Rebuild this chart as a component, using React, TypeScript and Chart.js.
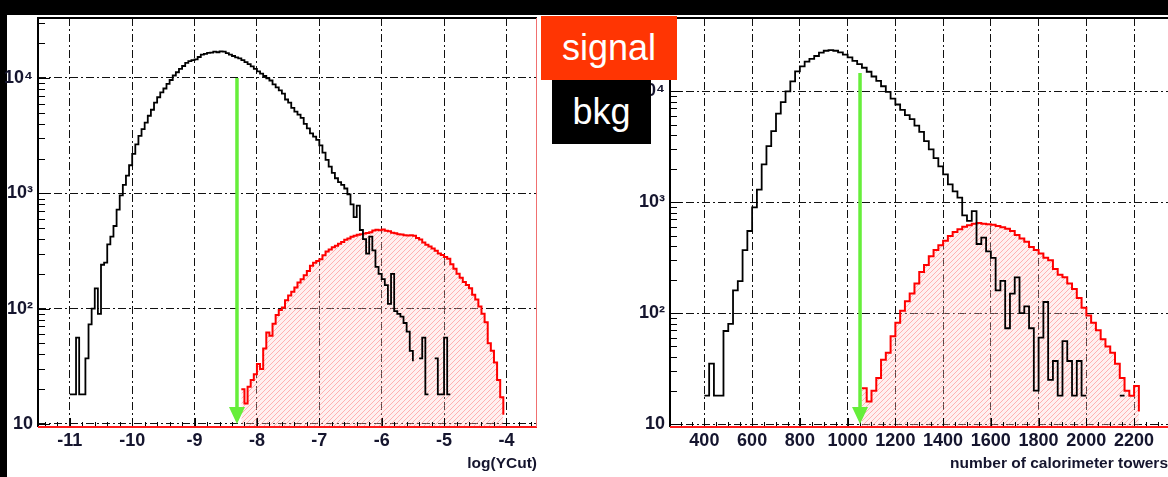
import React, { useEffect, useRef } from 'react';
import { Chart, registerables } from 'chart.js';
Chart.register(...registerables);

// ---------------- data ----------------
const leftXTicks = [-11, -10, -9, -8, -7, -6, -5, -4];
const rightXTicks = [400, 600, 800, 1000, 1200, 1400, 1600, 1800, 2000, 2200];
const yTicks = [10, 100, 1000, 10000];
const yTickLabels = ['10', '10²', '10³', '10⁴'];

// left panel: log(YCut), bins of 0.05
const leftBinWidth = 0.05;
const leftBkgStart = -11.05;
const leftBkg = [
  0, 18, 18, 56, 18, 18, 37, 73, 100, 150,
  90, 240, 250, 360, 420, 520, 720, 960, 1180, 1420,
  1750, 2200, 2650, 3150, 3600, 4100, 4700, 5300, 6100, 6800,
  7500, 8100, 8900, 9600, 10500, 11200, 12000, 12700, 13500, 14000,
  14300, 14500, 15200, 15900, 16200, 16500, 16600, 16900, 16700, 17000,
  16900, 16400, 15900, 15500, 15100, 14800, 14300, 13700, 13200, 12600,
  12000, 11400, 10900, 10400, 9900, 9500, 8800, 8300, 7800, 7300,
  6500, 6100, 5500, 5100, 4800, 4500, 4000, 3650, 3300, 3100,
  2900, 2600, 2250, 1950, 1700, 1500, 1350, 1250, 1180, 1100,
  980, 800, 620, 780, 480, 400, 300, 420, 320, 230,
  200, 180, 160, 110, 200, 95, 90, 85, 75, 63,
  43, 35, 0, 37, 56, 18, 18, 0, 37, 18,
  18, 56, 18, 18, 0, 0, 0, 0, 18, 0,
];
const leftSigStart = -8.3;
const leftSig = [
  0, 20, 15, 21, 24, 27, 33, 30, 45, 62,
  58, 74, 88, 97, 102, 118, 130, 140, 152, 168,
  180, 195, 212, 235, 250, 258, 268, 290, 312, 325,
  340, 350, 365, 378, 395, 405, 420, 428, 436, 442,
  447, 452, 460, 475, 482, 478, 485, 472, 468, 455,
  450, 442, 440, 432, 430, 432, 428, 410, 398, 375,
  358, 345, 332, 318, 300, 292, 280, 270, 242, 222,
  200, 185, 170, 160, 150, 132, 120, 104, 90, 76,
  50, 43, 34, 24, 17, 12, 0,
];
const leftCut = -8.32;
const leftArrowTop = 10000;

// right panel: number of calorimeter towers, bins of 20
const rightBinWidth = 20;
const rightBkgStart = 380;
const rightBkg = [
  0, 18, 35, 18, 18, 69, 80, 160, 194, 370,
  550, 900, 1300, 2190, 3200, 4370, 6300, 8000, 10000, 12300,
  15100, 16800, 18500, 19600, 20800, 22300, 23200, 23500, 23200, 22400,
  21400, 20200, 18800, 17600, 16300, 15000, 13600, 12400, 11100, 9900,
  8600, 7600, 6800, 6100, 5600, 4900, 4300, 3550, 3000, 2500,
  2100, 1780, 1450, 1250, 1100, 760, 680, 830, 420, 480,
  360, 315, 160, 195, 73, 150, 210, 100, 115, 73,
  20, 60, 126, 25, 37, 18, 56, 37, 18, 37,
  18, 18, 0, 37, 0, 0, 0, 0, 18, 18,
  0, 18, 0,
];
const rightSigStart = 1020;
const rightSig = [
  18, 0, 21, 16, 20, 26, 38, 44, 62, 82,
  105, 128, 150, 185, 235, 272, 325, 370, 410, 450,
  495, 540, 570, 600, 620, 640, 650, 640, 632, 625,
  610, 595, 575, 550, 505, 470, 440, 395, 370, 345,
  315, 300, 250, 222, 210, 185, 165, 137, 112, 95,
  82, 70, 58, 50, 44, 35, 26, 20, 18, 22,
  13, 0,
];
const rightCut = 1052;
const rightArrowTop = 14600;

// ---------------- styling ----------------
const FONT = '"Liberation Sans Narrow", "Liberation Sans", Arial, sans-serif';
const LABEL_COLOR = '#15152e';
const GRID_DASH = [8, 3, 2, 3];

function steps(start: number, width: number, values: number[]) {
  const pts = values.map((v, i) => ({ x: start + i * width, y: v }));
  pts.push({ x: start + values.length * width, y: values[values.length - 1] });
  return pts;
}

interface PanelCfg {
  xMin: number; xMax: number; yMin: number; yMax: number;
  xTicks: number[]; minorStep: number; majorStep: number;
  binWidth: number; bkgStart: number; bkg: number[]; sigStart: number; sig: number[];
  cut: number; arrowTop: number; title: string; titleSize: number;
  yWidth: number; padRight: number; rightFrame: boolean;
}

function decorPlugin(cfg: PanelCfg) {
  return {
    id: 'decor',
    afterDatasetsDraw(chart: any) {
      const { ctx, chartArea: a } = chart;
      const x = chart.scales.x;
      const y = chart.scales.y;
      ctx.save();
      ctx.strokeStyle = '#000';
      ctx.lineWidth = 1;
      // y minor / major ticks (log)
      ctx.beginPath();
      for (let d = 1; d <= 100000; d *= 10) {
        for (let k = 1; k <= 9; k++) {
          const v = k * d;
          if (v < y.min || v > y.max) continue;
          const py = Math.round(y.getPixelForValue(v)) + 0.5;
          const len = k === 1 ? 12 : 7;
          ctx.moveTo(a.left, py);
          ctx.lineTo(a.left + len, py);
        }
      }
      ctx.stroke();
      // x ticks
      ctx.beginPath();
      const n0 = Math.ceil(x.min / cfg.minorStep - 1e-6);
      const n1 = Math.floor(x.max / cfg.minorStep + 1e-6);
      const ratio = Math.round(cfg.majorStep / cfg.minorStep);
      for (let n = n0; n <= n1; n++) {
        const v = n * cfg.minorStep;
        const px = Math.round(x.getPixelForValue(v)) + 0.5;
        const len = n % ratio === 0 ? 9 : 5;
        ctx.moveTo(px, a.bottom);
        ctx.lineTo(px, a.bottom - len);
      }
      ctx.stroke();
      // frame
      ctx.lineWidth = 2;
      ctx.strokeStyle = '#000';
      ctx.beginPath();
      ctx.moveTo(a.left, a.bottom);
      ctx.lineTo(a.left, a.top);
      ctx.lineTo(a.right, a.top);
      ctx.stroke();
      ctx.strokeStyle = '#ff1a1a';
      ctx.beginPath();
      ctx.moveTo(a.left, a.bottom);
      ctx.lineTo(a.right, a.bottom);
      ctx.stroke();
      if (cfg.rightFrame) {
        ctx.lineWidth = 1;
        ctx.strokeStyle = '#f07070';
        ctx.beginPath();
        ctx.moveTo(a.right - 0.5, a.top);
        ctx.lineTo(a.right - 0.5, a.bottom);
        ctx.stroke();
      }
      // green cut arrow
      const ax = x.getPixelForValue(cfg.cut);
      const tipY = y.getPixelForValue(10);
      const topY = y.getPixelForValue(cfg.arrowTop);
      const head = 17;
      ctx.strokeStyle = '#66ee3a';
      ctx.fillStyle = '#66ee3a';
      ctx.lineWidth = 3.5;
      ctx.beginPath();
      ctx.moveTo(ax, topY);
      ctx.lineTo(ax, tipY - head + 2);
      ctx.stroke();
      ctx.beginPath();
      ctx.moveTo(ax - 8, tipY - head);
      ctx.lineTo(ax + 8, tipY - head);
      ctx.lineTo(ax, tipY);
      ctx.closePath();
      ctx.fill();
      ctx.restore();
    },
  };
}

function Panel({ cfg, left, width }: { cfg: PanelCfg; left: number; width: number }) {
  const ref = useRef<HTMLCanvasElement>(null);
  useEffect(() => {
    const canvas = ref.current!;
    const ctx = canvas.getContext('2d')!;
    const tile = document.createElement('canvas');
    tile.width = 5;
    tile.height = 5;
    const g = tile.getContext('2d')!;
    g.fillStyle = 'rgba(255,205,205,0.3)';
    g.fillRect(0, 0, 5, 5);
    g.strokeStyle = 'rgba(255,100,100,0.45)';
    g.lineWidth = 1;
    g.beginPath();
    g.moveTo(0, 5); g.lineTo(5, 0);
    g.moveTo(-1, 1); g.lineTo(1, -1);
    g.moveTo(4, 6); g.lineTo(6, 4);
    g.stroke();
    const pattern = ctx.createPattern(tile, 'repeat');

    const tickFont = { family: FONT, weight: 'bold' as const, size: 18 };
    const chart = new Chart(canvas, {
      type: 'line',
      data: {
        datasets: [
          {
            label: 'bkg',
            data: steps(cfg.bkgStart, cfg.binWidth, cfg.bkg),
            borderColor: '#000',
            borderWidth: 1.8,
            stepped: true,
            pointRadius: 0,
            fill: false,
          },
          {
            label: 'signal',
            data: steps(cfg.sigStart, cfg.binWidth, cfg.sig),
            borderColor: '#ff0000',
            borderWidth: 2,
            backgroundColor: pattern as any,
            stepped: true,
            pointRadius: 0,
            fill: 'start',
          },
        ],
      },
      options: {
        animation: false,
        responsive: false,
        maintainAspectRatio: false,
        events: [],
        layout: { padding: { top: 18, right: cfg.padRight, left: 0, bottom: 0 } },
        plugins: { legend: { display: false }, tooltip: { enabled: false } },
        scales: {
          x: {
            type: 'linear',
            min: cfg.xMin,
            max: cfg.xMax,
            bounds: 'data',
            afterBuildTicks: (s: any) => { s.ticks = cfg.xTicks.map((v) => ({ value: v })); },
            afterFit: (s: any) => { s.height = 50; },
            grid: { color: '#111', lineWidth: 1, drawTicks: false },
            border: { display: false, dash: GRID_DASH },
            ticks: {
              font: tickFont, color: LABEL_COLOR, padding: 3, maxRotation: 0, autoSkip: false,
              callback: (v: any) => String(v),
            },
            title: {
              display: true, text: cfg.title, align: 'end',
              font: { family: FONT, weight: 'bold', size: cfg.titleSize }, color: LABEL_COLOR,
              padding: { top: 0, bottom: 4 },
            },
          },
          y: {
            type: 'logarithmic',
            min: cfg.yMin,
            max: cfg.yMax,
            bounds: 'data',
            afterBuildTicks: (s: any) => { s.ticks = yTicks.map((v) => ({ value: v })); },
            afterFit: (s: any) => { s.width = cfg.yWidth; },
            grid: { color: '#111', lineWidth: 1, drawTicks: false },
            border: { display: false, dash: GRID_DASH },
            ticks: {
              font: tickFont, color: LABEL_COLOR, padding: 5, autoSkip: false,
              callback: (v: any) => {
                const i = yTicks.indexOf(Number(v));
                return i >= 0 ? yTickLabels[i] : '';
              },
            },
          },
        },
      } as any,
      plugins: [decorPlugin(cfg)],
    });
    return () => chart.destroy();
  }, []);
  return (
    <canvas
      ref={ref}
      width={width}
      height={477}
      style={{ position: 'absolute', left, top: 0, width, height: 477 }}
    />
  );
}

const leftCfg: PanelCfg = {
  xMin: -11.51, xMax: -3.51, yMin: 9.4, yMax: 33100,
  xTicks: leftXTicks, minorStep: 0.2, majorStep: 1,
  binWidth: leftBinWidth, bkgStart: leftBkgStart, bkg: leftBkg, sigStart: leftSigStart, sig: leftSig,
  cut: leftCut, arrowTop: leftArrowTop, title: 'log(YCut)', titleSize: 15.5,
  yWidth: 38, padRight: 8, rightFrame: true,
};

const rightCfg: PanelCfg = {
  xMin: 256, xMax: 2342, yMin: 9.4, yMax: 45800,
  xTicks: rightXTicks, minorStep: 50, majorStep: 200,
  binWidth: rightBinWidth, bkgStart: rightBkgStart, bkg: rightBkg, sigStart: rightSigStart, sig: rightSig,
  cut: rightCut, arrowTop: rightArrowTop, title: 'number of calorimeter towers', titleSize: 15.5,
  yWidth: 72, padRight: 0, rightFrame: false,
};

const boxText: React.CSSProperties = {
  position: 'absolute',
  color: '#fff',
  fontFamily: '"Liberation Sans", Arial, sans-serif',
  fontSize: 36,
  height: 64,
  lineHeight: '64px',
  textAlign: 'center',
};

export default function App() {
  return (
    <div style={{ position: 'fixed', left: 0, top: 0, width: 1168, height: 477, background: '#000', overflow: 'hidden' }}>
      <div style={{ position: 'absolute', left: 7, top: 15, right: 0, bottom: 0, background: '#fff' }} />
      <Panel cfg={leftCfg} left={0} width={545} />
      <Panel cfg={rightCfg} left={598} width={570} />
      <div style={{ ...boxText, left: 541, top: 16, width: 136, background: '#ff3503' }}>signal</div>
      <div style={{ ...boxText, left: 552, top: 80, width: 99, background: '#000' }}>bkg</div>
    </div>
  );
}
